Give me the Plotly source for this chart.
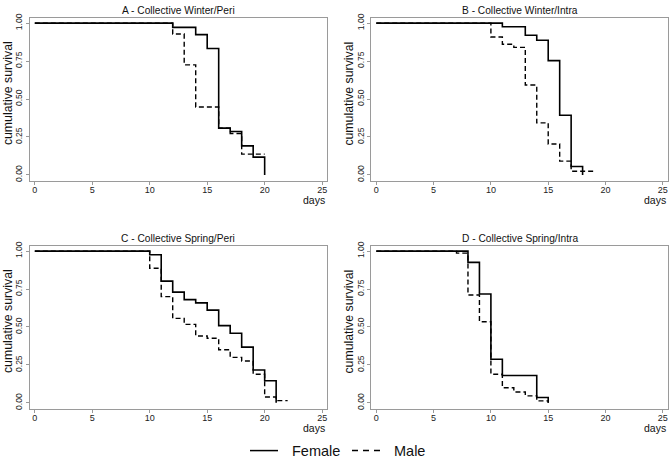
import plotly.graph_objects as go

# ---- data ----
panel_titles = ["A - Collective Winter/Peri", "B - Collective Winter/Intra",
                "C - Collective Spring/Peri", "D - Collective Spring/Intra"]
series_names = ["Female", "Male"]

a_female_t = [0, 12, 14, 15, 16, 17, 18, 19, 20]
a_female_s = [1, 0.972, 0.924, 0.833, 0.308, 0.286, 0.191, 0.117, 0]
a_male_t = [0, 12, 13, 14, 16, 17, 18, 20]
a_male_s = [1, 0.928, 0.725, 0.447, 0.308, 0.273, 0.137, 0.137]

b_female_t = [0, 11, 13, 14, 15, 16, 17, 18]
b_female_s = [1, 0.976, 0.92, 0.887, 0.753, 0.393, 0.055, 0]
b_male_t = [0, 10, 11, 12, 13, 14, 15, 16, 17, 19]
b_male_s = [1, 0.909, 0.861, 0.84, 0.592, 0.343, 0.204, 0.091, 0.024, 0.024]

c_female_t = [0, 10, 11, 12, 13, 14, 15, 16, 17, 18, 19, 20, 21]
c_female_s = [1, 0.976, 0.802, 0.730, 0.680, 0.659, 0.611, 0.509, 0.459, 0.367, 0.217, 0.146, 0]
c_male_t = [0, 10, 11, 12, 13, 14, 15, 16, 17, 18, 19, 20, 21, 22]
c_male_s = [1, 0.887, 0.70, 0.557, 0.517, 0.441, 0.426, 0.35, 0.30, 0.276, 0.189, 0.039, 0.015, 0.015]

d_female_t = [0, 8, 9, 10, 11, 14, 15]
d_female_s = [1, 0.926, 0.717, 0.287, 0.18, 0.035, 0]
d_male_t = [0, 7, 8, 9, 10, 11, 12, 13, 14, 15]
d_male_s = [1, 0.987, 0.711, 0.535, 0.189, 0.10, 0.072, 0.046, 0.013, 0]

x_ticks = [0, 5, 10, 15, 20, 25]
y_ticks = [0, 0.25, 0.5, 0.75, 1.0]
y_tick_labels = ["0.00", "0.25", "0.50", "0.75", "1.00"]

panels = [
    (a_female_t, a_female_s, a_male_t, a_male_s),
    (b_female_t, b_female_s, b_male_t, b_male_s),
    (c_female_t, c_female_s, c_male_t, c_male_s),
    (d_female_t, d_female_s, d_male_t, d_male_s),
]

W, H = 670, 458
FONT = "Liberation Sans, Arial, Helvetica, sans-serif"
# pixel boxes: (left, right, top, bottom)
boxes = [(29.5, 327.3, 13.3, 178.3), (371.0, 668.0, 13.3, 178.3),
         (29.5, 327.3, 244.3, 409.3), (371.0, 668.0, 244.3, 409.3)]

SOLID = dict(color="black", width=1.6)
DASHED = dict(color="black", width=1.4, dash="5px,3px")

fig = go.Figure()
frame_col = "#9a9a9a"

for i, ((ft, fs, mt, ms), (l, r, t, b)) in enumerate(zip(panels, boxes)):
    n = "" if i == 0 else str(i + 1)
    xa, ya = "x" + n, "y" + n
    fig.add_trace(go.Scatter(x=ft, y=fs, mode="lines", line_shape="hv",
                             line=SOLID, name=series_names[0], showlegend=False,
                             xaxis=xa, yaxis=ya))
    fig.add_trace(go.Scatter(x=mt, y=ms, mode="lines", line_shape="hv",
                             line=DASHED, name=series_names[1], showlegend=False,
                             xaxis=xa, yaxis=ya))
    fig.layout["xaxis" + n] = dict(
        domain=[l / W, r / W], anchor=ya, range=[-0.46, 25.45],
        tickvals=x_ticks, ticks="outside", ticklen=3, tickcolor=frame_col,
        showline=True, linecolor=frame_col, linewidth=1, mirror=True,
        showgrid=False, zeroline=False, ticklabelstandoff=-3,
        tickfont=dict(size=9, color="#222", family=FONT),
    )
    fig.layout["yaxis" + n] = dict(
        domain=[1 - b / H, 1 - t / H], anchor=xa, range=[-0.04, 1.033],
        tickvals=y_ticks, ticktext=y_tick_labels, tickangle=-90,
        ticks="outside", ticklen=3, tickcolor=frame_col,
        showline=True, linecolor=frame_col, linewidth=1, mirror=True,
        showgrid=False, zeroline=False,
        tickfont=dict(size=8.5, color="#222", family=FONT),
    )
    # panel title
    fig.add_annotation(x=(l + r) / 2 / W, y=1 - (t - 7.5) / H, xref="paper", yref="paper",
                       text=panel_titles[i], showarrow=False,
                       font=dict(size=10.2, color="#111", family=FONT),
                       xanchor="center", yanchor="middle")
    # y axis title
    fig.add_annotation(x=(l - 22) / W, y=1 - ((t + b) / 2 - 6) / H, xref="paper", yref="paper",
                       text="cumulative survival", textangle=-90, showarrow=False,
                       font=dict(size=12.3, color="#111", family=FONT),
                       xanchor="center", yanchor="middle")
    # x axis title "days"
    fig.add_annotation(x=r / W, y=1 - (b + 19) / H, xref="paper", yref="paper",
                       text="days", showarrow=False,
                       font=dict(size=10.5, color="#111", family=FONT),
                       xanchor="right", yanchor="middle")

# legend (keys drawn as shapes, labels as text)
leg_y = 1 - 451.5 / H
fig.add_shape(type="line", xref="paper", yref="paper", x0=250 / W, x1=278 / W,
              y0=leg_y, y1=leg_y, line=dict(color="black", width=1.5))
fig.add_shape(type="line", xref="paper", yref="paper", x0=352 / W, x1=383 / W,
              y0=leg_y, y1=leg_y, line=dict(color="black", width=1.5, dash="6px,5px"))
fig.add_annotation(x=290 / W, y=leg_y, xref="paper", yref="paper", text=series_names[0],
                   showarrow=False, xanchor="left", yanchor="middle",
                   font=dict(size=14.5, color="#111", family=FONT))
fig.add_annotation(x=392 / W, y=leg_y, xref="paper", yref="paper", text=series_names[1],
                   showarrow=False, xanchor="left", yanchor="middle",
                   font=dict(size=14.5, color="#111", family=FONT))

fig.update_layout(
    width=W, height=H,
    margin=dict(l=0, r=0, t=0, b=0),
    paper_bgcolor="white", plot_bgcolor="white",
    font=dict(family=FONT, color="#111"),
    showlegend=False,
)

fig.write_html("out.html", config={"displayModeBar": False},
               post_script="document.body.style.margin='0';document.body.style.overflow='hidden';")
